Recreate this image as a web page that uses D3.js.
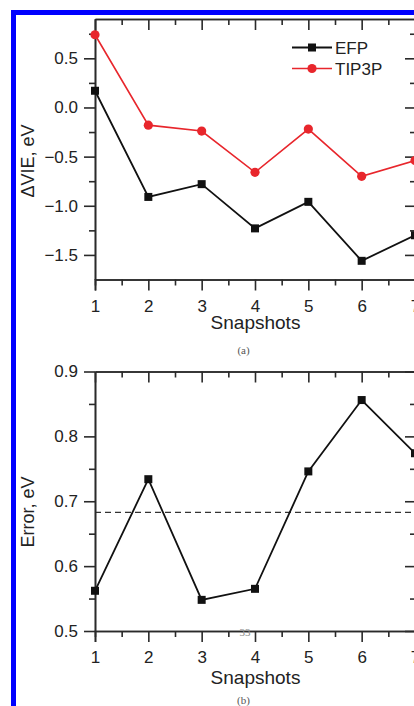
<!DOCTYPE html>
<html>
<head>
<meta charset="utf-8">
<script src="https://cdn.jsdelivr.net/npm/d3@7"></script>
<style>
  html, body { margin: 0; padding: 0; background: #fff; }
  svg { display: block; }
  text { font-family: "Liberation Sans", Arial, sans-serif; }
</style>
</head>
<body>
<svg id="fig" width="414" height="706"></svg>
<script>
// Snapshot indices along the x axis
const snapshots = [1, 2, 3, 4, 5, 6, 7];
// Panel (a): vertical ionization energy shift, eV
const efpVIE = [0.17, -0.91, -0.78, -1.23, -0.96, -1.56, -1.30];
const tip3pVIE = [0.74, -0.18, -0.24, -0.66, -0.22, -0.70, -0.54];
// Panel (b): error, eV, and its average level
const errorValues = [0.562, 0.734, 0.548, 0.565, 0.746, 0.856, 0.774];
const meanError = 0.683;
// Tick values
const xTicks = [1, 2, 3, 4, 5, 6, 7];
const xMinor = [1.5, 2.5, 3.5, 4.5, 5.5, 6.5];
const vieTicks = [-1.5, -1.0, -0.5, 0.0, 0.5];
const vieMinor = [-1.25, -0.75, -0.25, 0.25, 0.75];
const errTicks = [0.5, 0.6, 0.7, 0.8, 0.9];
const errMinor = [0.55, 0.65, 0.75, 0.85];
const legendNames = ["EFP", "TIP3P"];

const svg = d3.select("#fig");
const AX = "#2a2a2a";
const RED = "#e8262c";
const BLACK = "#111";

// page frame
svg.append("rect").attr("x", 13.5).attr("y", 12.5).attr("width", 600).attr("height", 900)
  .attr("fill", "none").attr("stroke", "#0000ff").attr("stroke-width", 5);

function styleAxis(g) {
  g.select(".domain").attr("stroke", AX).attr("stroke-width", 1.6);
  g.selectAll(".tick line").attr("stroke", AX).attr("stroke-width", 1.6);
  g.selectAll(".tick text").attr("fill", "#222").attr("font-size", 17);
}

function frame(x, y, yTicks, yMinor, fmt) {
  const [x0, x1] = x.range();
  const [y0, y1] = y.range();
  // bottom
  svg.append("g").attr("transform", `translate(0,${y0})`)
    .call(d3.axisBottom(x).tickValues(xMinor).tickSize(6).tickFormat(""))
    .call(styleAxis);
  svg.append("g").attr("transform", `translate(0,${y0})`)
    .call(d3.axisBottom(x).tickValues(xTicks).tickSize(11).tickPadding(9).tickFormat(d3.format("d")))
    .call(styleAxis);
  // top mirror, ticks inward
  svg.append("g").attr("transform", `translate(0,${y1})`)
    .call(d3.axisTop(x).tickValues(xMinor).tickSize(-6).tickSizeOuter(0).tickFormat(""))
    .call(styleAxis);
  svg.append("g").attr("transform", `translate(0,${y1})`)
    .call(d3.axisTop(x).tickValues(xTicks).tickSize(-11).tickSizeOuter(0).tickFormat(""))
    .call(styleAxis);
  // left
  svg.append("g").attr("transform", `translate(${x0},0)`)
    .call(d3.axisLeft(y).tickValues(yMinor).tickSize(6).tickSizeOuter(0).tickFormat(""))
    .call(styleAxis);
  svg.append("g").attr("transform", `translate(${x0},0)`)
    .call(d3.axisLeft(y).tickValues(yTicks).tickSize(11).tickSizeOuter(0).tickPadding(6).tickFormat(fmt))
    .call(styleAxis);
  // right mirror, ticks inward
  svg.append("g").attr("transform", `translate(${x1},0)`)
    .call(d3.axisRight(y).tickValues(yMinor).tickSize(-5).tickSizeOuter(0).tickFormat(""))
    .call(styleAxis);
  svg.append("g").attr("transform", `translate(${x1},0)`)
    .call(d3.axisRight(y).tickValues(yTicks).tickSize(-10).tickSizeOuter(0).tickFormat(""))
    .call(styleAxis);
}

function xTitle(cx, baseline, sub, subY) {
  svg.append("text").attr("x", cx).attr("y", baseline).attr("text-anchor", "middle")
    .attr("font-size", 19).attr("fill", "#222").text("Snapshots");
  svg.append("text").attr("x", cx - 12).attr("y", subY).attr("text-anchor", "middle")
    .attr("font-size", 11).attr("fill", "#555")
    .style("font-family", "'Liberation Serif', serif").text(sub);
}

function yTitle(cy, label) {
  svg.append("text").attr("transform", `translate(34,${cy}) rotate(-90)`)
    .attr("text-anchor", "middle").attr("font-size", 18).attr("fill", "#222").text(label);
}

// ---------- Panel (a) ----------
const xA = d3.scaleLinear().domain([1, 7]).range([95, 415]);
const yA = d3.scaleLinear().domain([-1.75, 0.9]).range([279.5, 19]);
frame(xA, yA, vieTicks, vieMinor, d3.format(".1f"));

const lineA = (vals) => d3.line().x((d, i) => xA(snapshots[i])).y(d => yA(d))(vals);

svg.append("path").attr("d", lineA(tip3pVIE)).attr("fill", "none")
  .attr("stroke", RED).attr("stroke-width", 1.6);
svg.append("path").attr("d", lineA(efpVIE)).attr("fill", "none")
  .attr("stroke", BLACK).attr("stroke-width", 1.8);
svg.selectAll(".ptEfpA").data(efpVIE).join("rect")
  .attr("x", (d, i) => xA(snapshots[i]) - 4).attr("y", d => yA(d) - 4)
  .attr("width", 8).attr("height", 8).attr("fill", BLACK);
svg.selectAll(".ptTipA").data(tip3pVIE).join("circle")
  .attr("cx", (d, i) => xA(snapshots[i])).attr("cy", d => yA(d))
  .attr("r", 4.6).attr("fill", RED);

// legend
const lg = svg.append("g");
legendNames.forEach((name, i) => {
  const ly = 47.5 + i * 21;
  const col = i === 0 ? BLACK : RED;
  lg.append("line").attr("x1", 292).attr("x2", 332).attr("y1", ly).attr("y2", ly)
    .attr("stroke", col).attr("stroke-width", i === 0 ? 1.8 : 1.6);
  if (i === 0) {
    lg.append("rect").attr("x", 308).attr("y", ly - 4).attr("width", 8).attr("height", 8).attr("fill", col);
  } else {
    lg.append("circle").attr("cx", 312).attr("cy", ly).attr("r", 4.6).attr("fill", col);
  }
  lg.append("text").attr("x", 335).attr("y", ly + 6).attr("font-size", 17)
    .attr("fill", "#222").text(name);
});

xTitle(255.5, 329, "(a)", 354);
yTitle(161, "\u0394VIE, eV");

// ---------- Panel (b) ----------
const xB = d3.scaleLinear().domain([1, 7]).range([95, 415]);
const yB = d3.scaleLinear().domain([0.5, 0.9]).range([631, 371.5]);

svg.append("line").attr("x1", xB(1)).attr("x2", xB(7)).attr("y1", yB(meanError)).attr("y2", yB(meanError))
  .attr("stroke", "#333").attr("stroke-width", 1.2).attr("stroke-dasharray", "6,4");

frame(xB, yB, errTicks, errMinor, d3.format(".1f"));

svg.append("path")
  .attr("d", d3.line().x((d, i) => xB(snapshots[i])).y(d => yB(d))(errorValues))
  .attr("fill", "none").attr("stroke", BLACK).attr("stroke-width", 1.8);
svg.selectAll(".ptErr").data(errorValues).join("rect")
  .attr("x", (d, i) => xB(snapshots[i]) - 4).attr("y", d => yB(d) - 4)
  .attr("width", 8).attr("height", 8).attr("fill", BLACK);

// page number printed over the axis
svg.append("text").attr("x", 245).attr("y", 636).attr("text-anchor", "middle")
  .attr("font-size", 11).attr("fill", "#8a8a8a")
  .style("font-family", "'Liberation Serif', serif").text("33");

xTitle(255.5, 684, "(b)", 704);
yTitle(512, "Error, eV");
</script>
</body>
</html>
